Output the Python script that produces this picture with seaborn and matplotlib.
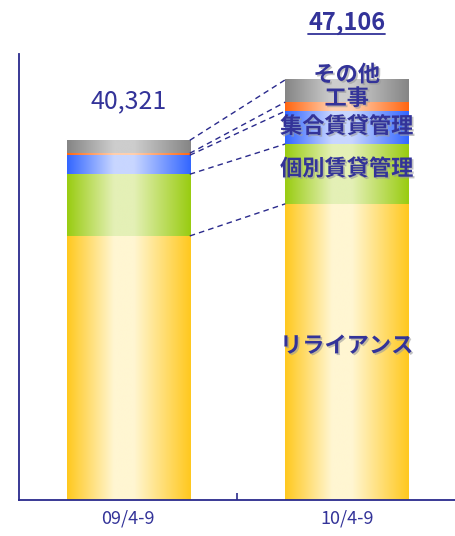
import matplotlib
matplotlib.use("Agg")
import matplotlib.pyplot as plt
import matplotlib.patheffects as pe
from matplotlib.colors import to_rgb
from matplotlib.lines import Line2D
import numpy as np
import pandas as pd
import seaborn as sns

# ---- data ----
periods = ["09/4-9", "10/4-9"]
segments = ["リライアンス", "個別賃貸管理", "集合賃貸管理", "工事", "その他"]
values_0904 = [29600, 6920, 2130, 220, 1451]
values_1004 = [33200, 6710, 3690, 1006, 2500]
totals = [40321, 47106]
total_labels = ["40,321", "47,106"]

edge_colors = ["#ffc81e", "#99cc11", "#3366ff", "#ff6611", "#858585"]
light_colors = ["#fff6d2", "#e4f0b6", "#c8d6ff", "#ffcfae", "#cdcdcd"]

NAVY = "#2a2a8c"
TEXT = "#333399"

df = pd.DataFrame({
    "period": np.repeat(periods, len(segments)),
    "segment": segments * len(periods),
    "value": values_0904 + values_1004,
})
df["cum"] = df.groupby("period")["value"].cumsum()

sns.set_theme(style="white")
plt.rcParams["font.family"] = ["Noto Sans CJK JP", "DejaVu Sans"]

fig = plt.figure(figsize=(4.56, 5.36), dpi=100)
ax = fig.add_axes([19 / 456, 36 / 536, 437 / 456, 446 / 536])

width = 0.563
# draw cumulative bars from top segment down (stacking)
layers = {}
for i in reversed(range(len(segments))):
    seg = segments[i]
    sub = df[df["segment"] == seg]
    n_before = len(ax.patches)
    sns.barplot(data=sub, x="period", y="cum", order=periods, ax=ax,
                color=edge_colors[i], width=width, saturation=1,
                errorbar=None, zorder=1 + (len(segments) - i))
    layers[i] = ax.patches[n_before:]

ax.set_xlim(-0.5, 1.5)
ax.set_ylim(0, 50000)


def gradient(c_edge, c_light, n=256):
    t = np.linspace(0, 1, n)
    xp = [0.0, 0.38, 0.54, 1.0]
    fp = [0.0, 1.0, 1.0, 0.0]
    f = np.interp(t, xp, fp)
    e = np.array(to_rgb(c_edge))
    l = np.array(to_rgb(c_light))
    img = e[None, :] * (1 - f[:, None]) + l[None, :] * f[:, None]
    return img[None, :, :]


# gradient overlays per segment
seg_geom = {}  # (i, bar) -> (x0, x1, bottom, top)
for i in range(len(segments)):
    for b, p in enumerate(layers[i]):
        x0 = p.get_x()
        x1 = x0 + p.get_width()
        top = p.get_height()
        bottom = layers[i - 1][b].get_height() if i > 0 else 0
        seg_geom[(i, b)] = (x0, x1, bottom, top)
        p.set_visible(False)
        ax.imshow(gradient(edge_colors[i], light_colors[i]),
                  extent=(x0, x1, bottom, top), aspect="auto",
                  interpolation="bilinear", zorder=2)
ax.set_xlim(-0.5, 1.5)
ax.set_ylim(0, 50000)

# dashed connector lines between bars at each segment boundary
for i in range(len(segments)):
    _, x_left, _, y0 = seg_geom[(i, 0)]
    x_right, _, _, y1 = seg_geom[(i, 1)]
    ax.add_line(Line2D([x_left, x_right], [y0, y1], color=NAVY, lw=1.0,
                       dashes=(4, 3), zorder=3))

# segment labels on the second bar
shadow = [pe.withSimplePatchShadow(offset=(1.2, -1.2), shadow_rgbFace="#9a9a9a", alpha=0.6)]
label_offsets = [6, 5, 1, 8, 16]  # pixels upward from segment centre
for i, seg in enumerate(segments):
    x0, x1, bottom, top = seg_geom[(i, 1)]
    ax.annotate(seg, xy=((x0 + x1) / 2, (bottom + top) / 2),
                xytext=(0, label_offsets[i]), textcoords="offset pixels",
                ha="center", va="center", fontsize=16, fontweight="bold",
                color=TEXT, zorder=5, path_effects=shadow)

# totals
t0 = ax.annotate(total_labels[0], xy=(0, totals[0]), xytext=(0, 39),
                 textcoords="offset pixels", ha="center", va="center",
                 fontsize=18, color=TEXT, zorder=5)
t1 = ax.annotate(total_labels[1], xy=(1, totals[1]), xytext=(0, 57),
                 textcoords="offset pixels", ha="center", va="center",
                 fontsize=17, fontweight="bold", color=TEXT, zorder=5)

# axes styling
for s in ["top", "right"]:
    ax.spines[s].set_visible(False)
for s in ["left", "bottom"]:
    ax.spines[s].set_color(NAVY)
    ax.spines[s].set_linewidth(1.3)
ax.set_xlabel("")
ax.set_ylabel("")
ax.set_yticks([])
ax.set_xticks([0, 1])
ax.set_xticklabels(periods, fontsize=13, color=TEXT)
ax.tick_params(axis="x", which="major", length=0, pad=7)
ax.set_xticks([0.5, 1.5], minor=True)
ax.tick_params(axis="x", which="minor", direction="in", length=5,
               width=1.2, color=NAVY, bottom=True)
ax.set_facecolor("white")
fig.patch.set_facecolor("white")

# underline the second total
fig.canvas.draw()
bb = t1.get_window_extent(fig.canvas.get_renderer())
y_ul = bb.y0 + 1
fig.add_artist(Line2D([bb.x0 / fig.bbox.width, bb.x1 / fig.bbox.width],
                      [y_ul / fig.bbox.height, y_ul / fig.bbox.height],
                      color=TEXT, lw=1.3, transform=fig.transFigure))

fig.savefig("out.png", dpi=100, facecolor="white")
